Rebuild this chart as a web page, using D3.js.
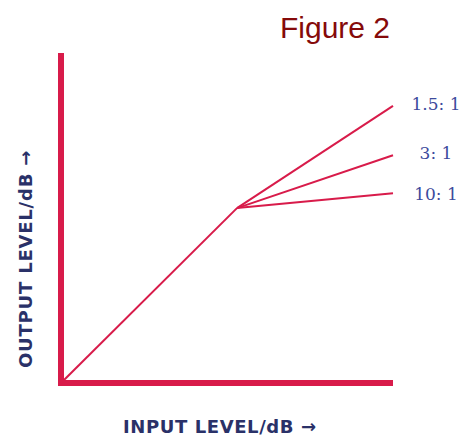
<!DOCTYPE html>
<html>
<head>
<meta charset="utf-8">
<script src="https://cdn.jsdelivr.net/npm/d3@7"></script>
<style>
  body { margin: 0; background: #fff; }
  svg { display: block; }
</style>
</head>
<body>
<div id="container"></div>
<script>
/* CONSTANTS AND GLOBALS */
const width = 473,
  height = 436,
  margin = { top: 53, bottom: 53, left: 61, right: 80 };

/* DATA */
const threshold = 53;        // knee, in dB (input = output)
const inputMax = 100;
const ratios = ["1.5: 1", "3: 1", "10: 1"];
const outputAtMax = [84, 69, 57.5];   // output level read at the right end

const red = "#d81b4a";
const blue = "#3c4a9c";
const navy = "#2a3168";

/* SCALES */
const xScale = d3.scaleLinear()
  .domain([0, inputMax])
  .range([margin.left, width - margin.right]);

const yScale = d3.scaleLinear()
  .domain([0, inputMax])
  .range([height - margin.bottom, margin.top]);

/* SVG */
const svg = d3.select("#container")
  .append("svg")
  .attr("width", width)
  .attr("height", height);

// title
svg.append("text")
  .attr("x", 280)
  .attr("y", 38)
  .attr("font-family", "Liberation Sans, Arial, sans-serif")
  .attr("font-size", 30)
  .attr("fill", "#850a0a")
  .text("Figure 2");

// axes (thick red lines)
svg.append("line")
  .attr("x1", xScale(0)).attr("x2", xScale(0))
  .attr("y1", yScale(0) + 3).attr("y2", yScale(inputMax))
  .attr("stroke", red)
  .attr("stroke-width", 6);

svg.append("line")
  .attr("x1", xScale(0) - 3).attr("x2", xScale(inputMax))
  .attr("y1", yScale(0)).attr("y2", yScale(0))
  .attr("stroke", red)
  .attr("stroke-width", 6);

// 1:1 part below threshold
const line = d3.line().x(d => xScale(d[0])).y(d => yScale(d[1]));

svg.append("path")
  .attr("d", line([[0, 0], [threshold, threshold]]))
  .attr("fill", "none")
  .attr("stroke", red)
  .attr("stroke-width", 2);

// compressed branches
svg.selectAll(".branch")
  .data(outputAtMax)
  .join("path")
  .attr("class", "branch")
  .attr("d", d => line([[threshold, threshold], [inputMax, d]]))
  .attr("fill", "none")
  .attr("stroke", red)
  .attr("stroke-width", 2);

// ratio labels
svg.selectAll(".ratio")
  .data(ratios)
  .join("text")
  .attr("class", "ratio")
  .attr("x", 436)
  .attr("y", (d, i) => yScale(outputAtMax[i]) + 4 + (i === 2 ? 3 : 0))
  .attr("text-anchor", "middle")
  .attr("font-family", "DejaVu Serif, serif")
  .attr("font-size", 17)
  .attr("fill", blue)
  .text(d => d);

// axis titles
svg.append("text")
  .attr("x", 123)
  .attr("y", 433)
  .attr("font-family", "DejaVu Sans, Verdana, sans-serif")
  .attr("font-weight", "bold")
  .attr("font-size", 18)
  .attr("letter-spacing", 0.6)
  .attr("fill", navy)
  .text("INPUT LEVEL/dB \u2192");

svg.append("text")
  .attr("transform", "translate(32,368) rotate(-90)")
  .attr("font-family", "DejaVu Sans, Verdana, sans-serif")
  .attr("font-weight", "bold")
  .attr("font-size", 18)
  .attr("letter-spacing", 0.8)
  .attr("fill", navy)
  .text("OUTPUT LEVEL/dB  \u2192");
</script>
</body>
</html>
